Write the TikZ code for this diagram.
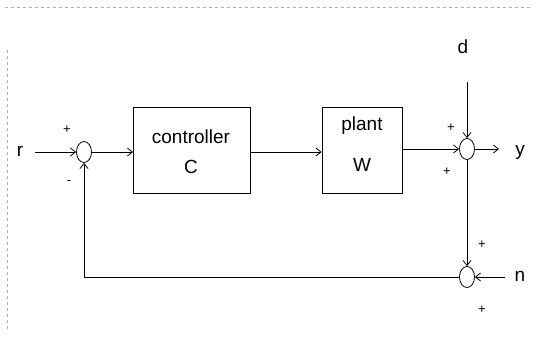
\documentclass[tikz,border=0pt]{standalone}
\usepackage{fontspec}
\setmainfont{Liberation Sans}
\usetikzlibrary{arrows.meta,shapes.geometric}
\begin{document}
\begin{tikzpicture}[x=1pt,y=-1pt,
  lbl/.style={font=\fontsize{19}{21}\selectfont, inner sep=0pt},
  sgn/.style={font=\fontsize{13}{14}\selectfont, inner sep=0pt},
  blk/.style={draw, line width=0.9pt, minimum width=#1, minimum height=86pt, inner sep=0pt},
  sumj/.style={draw, ellipse, line width=0.8pt, minimum width=15pt, minimum height=21pt, inner sep=0pt},
  conn/.style={line width=0.8pt, -{Straight Barb[length=5pt,width=8pt]}},
  plain/.style={line width=0.8pt},
  scan/.style={gray!60, dashed, line width=0.6pt}]
\useasboundingbox (0,0) rectangle (533,341);
% scan border artifacts
\draw[scan] (5,7) -- (533,7);
\draw[scan] (7,50) -- (7,330);
% nodes
\node[lbl] (r) at (20,151) {r};
\node[sumj] (s1) at (84,152) {};
\node[blk=117pt] (C) at (192,150) {};
\node[lbl] (Ct) at (191,137) {controller};
\node[lbl] (Cc) at (191,167) {C};
\node[blk=80pt] (W) at (362,150) {};
\node[lbl] (Wt) at (362,126) {plant};
\node[lbl] (Wc) at (362,165) {W};
\node[sumj] (s2) at (467,149) {};
\node[sumj] (s3) at (467,277) {};
\node[lbl] (d) at (463,47) {d};
\node[lbl] (y) at (520,152) {y};
\node[lbl] (n) at (520,276) {n};
\coordinate (rs) at (35,152);
\coordinate (ds) at (467,82);
\coordinate (ye) at (499,149);
\coordinate (ns) at (505,277);
\coordinate (fb) at (84,277);
% signs
\node[sgn] (p1) at (67,130) {+};
\node[sgn] (m1) at (69,183) {-};
\node[sgn] (p2) at (451,128) {+};
\node[sgn] (p3) at (447,172) {+};
\node[sgn] (p4) at (482,245) {+};
\node[sgn] (p5) at (482,310) {+};
% connectors
\draw[conn] (rs) -- (s1.west);
\draw[conn] (s1.east) -- (C.west |- s1);
\draw[conn] (C.east |- s1) -- (W.west |- s1);
\draw[conn] (W.east |- s2) -- (s2.west);
\draw[conn] (ds) -- (s2.north);
\draw[conn] (s2.east) -- (ye);
\draw[conn] (s2.south) -- (s3.north);
\draw[conn] (ns) -- (s3.east);
\draw[plain] (s3.west) -- (fb);
\draw[conn] (fb) -- (s1.south);
\end{tikzpicture}
\end{document}
